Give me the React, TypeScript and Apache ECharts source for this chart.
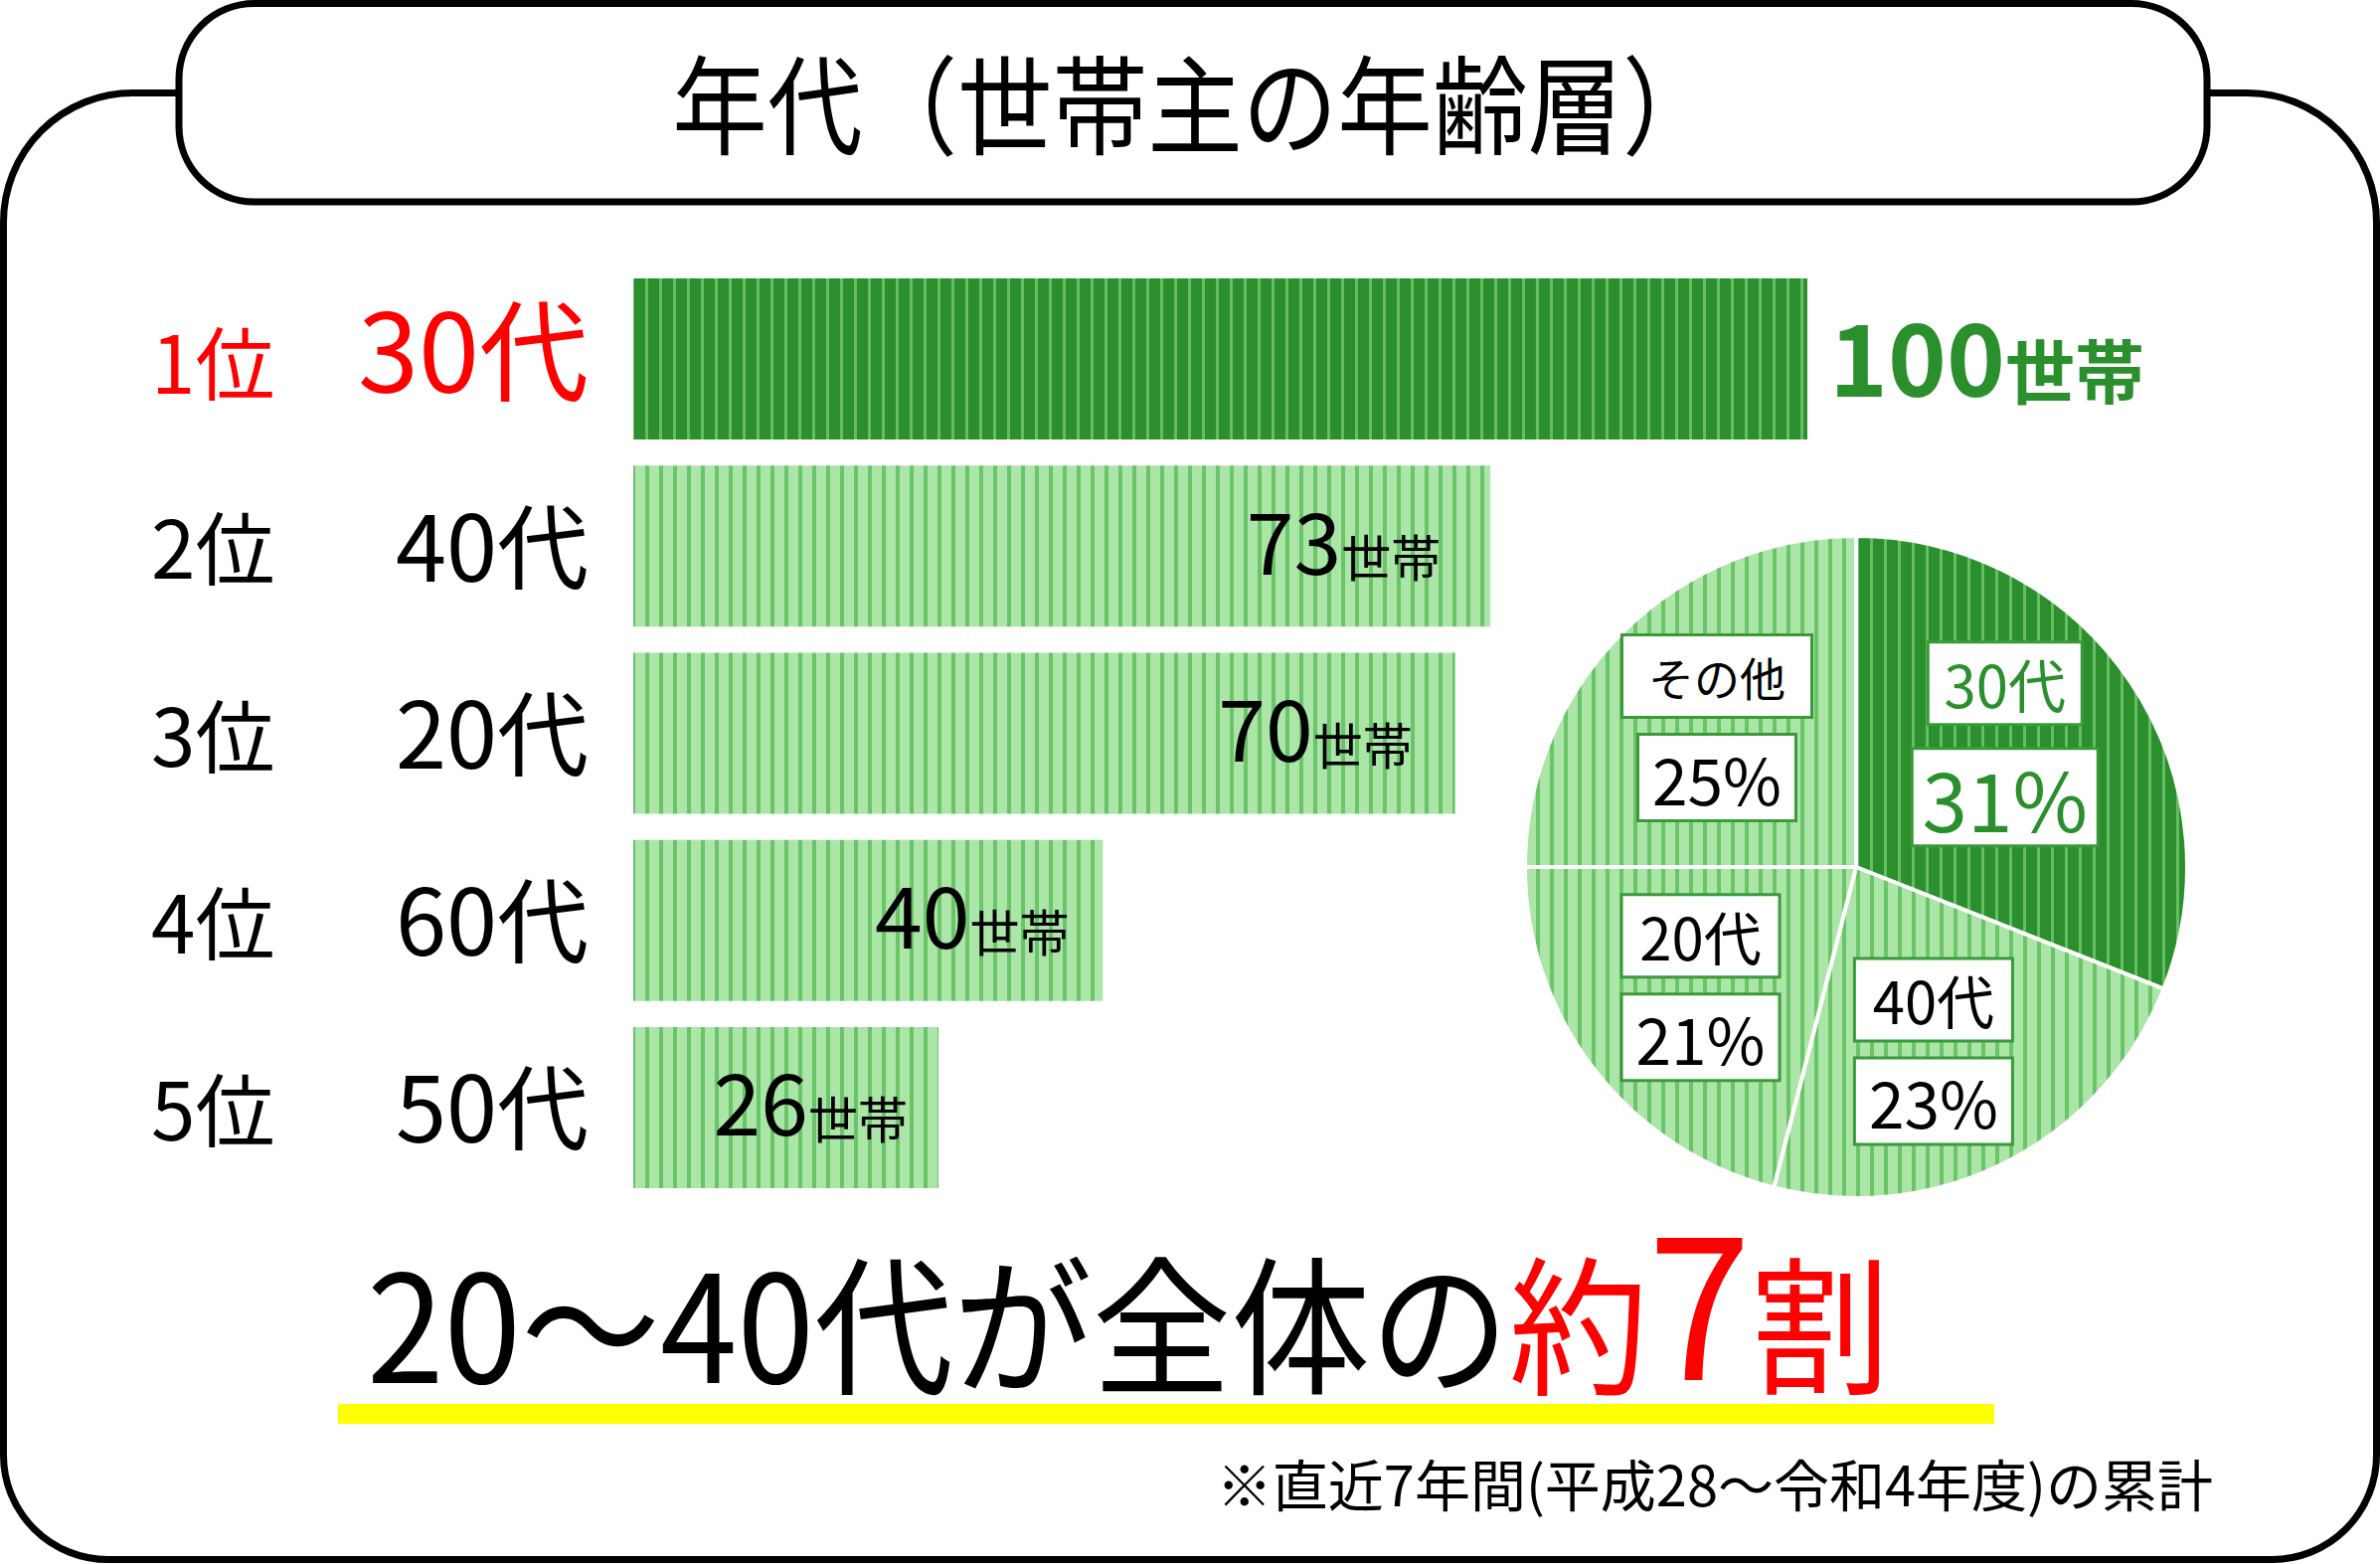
import React, { useEffect, useRef } from 'react';
import * as echarts from 'echarts';

// ---- data ----
const ranks = ['1位', '2位', '3位', '4位', '5位'];
const ageGroups = ['30代', '40代', '20代', '60代', '50代'];
const households = [100, 73, 70, 40, 26];
const unitLabel = '世帯';
const pieNames = ['30代', '40代', '20代', 'その他'];
const pieShares = [31, 23, 21, 25];
const titleText = '年代（世帯主の年齢層）';
const headlineBlack = '20～40代が全体の';
const headlineRed = ['約', '7', '割'];
const footnote = '※直近7年間(平成28～令和4年度)の累計';

// ---- styling (not data) ----
const GREEN = '#2a8f2c';
const RED = '#ff0000';
const FONT = '"Noto Sans CJK JP", "Noto Sans", sans-serif';
const barLabelInsets = [22, 50, 43, 34, 31];
const pieLabelOffsets = [[-14, -13], [-12, 9], [0, 0], [0, 0]];

function stripe(bg: string, fg: string, w: number) {
  const c = document.createElement('canvas');
  c.width = 14;
  c.height = 14;
  const ctx = c.getContext('2d')!;
  ctx.fillStyle = bg;
  ctx.fillRect(0, 0, 14, 14);
  ctx.fillStyle = fg;
  ctx.fillRect(5, 0, w, 14);
  return { image: c.toDataURL(), repeat: 'repeat', imageWidth: 14, imageHeight: 14 };
}

export default function App() {
  const ref = useRef<HTMLDivElement>(null);

  useEffect(() => {
    if (!ref.current) return;
    const chart = echarts.init(ref.current, null, { renderer: 'svg' });
    const darkPat = stripe(GREEN, '#66bd63', 3);
    const lightPat = stripe('#ace5a8', '#6ac468', 4);

    const boxBase = {
      backgroundColor: '#ffffff',
      borderColor: '#3a9a3a',
      borderWidth: 3,
      align: 'center',
      fontFamily: FONT,
    };

    const option: any = {
      animation: false,
      backgroundColor: '#ffffff',
      textStyle: { fontFamily: FONT },
      grid: { left: 637, right: 576, top: 267, height: 941, containLabel: false, outerBoundsMode: 'none' },
      xAxis: { type: 'value', min: 0, max: 100, show: false },
      yAxis: {
        type: 'category',
        inverse: true,
        data: ranks,
        axisLine: { show: false },
        axisTick: { show: false },
        splitLine: { show: false },
        axisLabel: {
          margin: 45,
          formatter: (v: string, i: number) =>
            i === 0 ? `{r1|${v}}{a1|${ageGroups[i]}}` : `{r|${v}}{a|${ageGroups[i]}}`,
          rich: {
            r1: { fontSize: 80, color: RED, width: 200, align: 'left', fontFamily: FONT },
            a1: { fontSize: 110, color: RED, width: 240, align: 'right', fontFamily: FONT, padding: [0, 0, 28, 0] },
            r: { fontSize: 80, color: '#000', width: 200, align: 'left', fontFamily: FONT, padding: [0, 0, 4, 0] },
            a: { fontSize: 92, color: '#000', width: 240, align: 'right', fontFamily: FONT, padding: [0, 0, 10, 0] },
          },
        },
      },
      series: [
        {
          type: 'bar',
          barWidth: 162,
          silent: true,
          data: households.map((v, i) => ({
            value: v,
            itemStyle: { color: i === 0 ? darkPat : lightPat },
            label:
              i === 0
                ? { position: 'right', distance: barLabelInsets[i], offset: [0, -6] }
                : { distance: barLabelInsets[i] },
          })),
          label: {
            show: true,
            position: 'insideRight',
            distance: 40,
            offset: [0, -9],
            formatter: (p: any) =>
              p.dataIndex === 0 ? `{N|${p.value}}{U|${unitLabel}}` : `{n|${p.value}}{u|${unitLabel}}`,
            rich: {
              N: { fontSize: 100, fontWeight: 'bold', color: GREEN, verticalAlign: 'bottom', fontFamily: FONT },
              U: { fontSize: 70, fontWeight: 'bold', color: GREEN, verticalAlign: 'bottom', fontFamily: FONT },
              n: { fontSize: 86, color: '#000', verticalAlign: 'bottom', fontFamily: FONT },
              u: { fontSize: 50, color: '#000', verticalAlign: 'bottom', fontFamily: FONT },
            },
          },
        },
        {
          type: 'pie',
          center: [1867, 872],
          radius: [0, 333],
          startAngle: 90,
          clockwise: true,
          silent: true,
          emphasis: { disabled: true },
          label: { show: false },
          labelLine: { show: false },
          itemStyle: { borderColor: '#ffffff', borderWidth: 4 },
          data: pieShares.map((v, i) => ({
            value: v,
            name: pieNames[i],
            itemStyle: { color: i === 0 ? darkPat : lightPat },
          })),
        },
        {
          type: 'pie',
          center: [1867, 872],
          radius: [60, 330],
          startAngle: 90,
          clockwise: true,
          silent: true,
          z: 3,
          avoidLabelOverlap: false,
          emphasis: { disabled: true },
          itemStyle: { color: 'rgba(0,0,0,0)', borderWidth: 0 },
          labelLine: { show: false },
          label: {
            show: true,
            position: 'inside',
            overflow: 'none',
            formatter: (p: any) => {
              const i = p.dataIndex;
              const g = i === 0 ? 'G' : 'K';
              const ageStyle = i === 3 ? 'ageO' : 'age' + g;
              return `{${ageStyle}|${p.name}}\n{pct${g}|${p.value}%}`;
            },
            rich: {
              ageG: { ...boxBase, fontSize: 58, color: GREEN, width: 152, height: 80, lineHeight: 108 },
              pctG: { ...boxBase, fontSize: 82, color: GREEN, width: 184, height: 95, lineHeight: 121 },
              ageK: { ...boxBase, fontSize: 58, color: '#000', width: 156, height: 80, lineHeight: 100 },
              ageO: { ...boxBase, fontSize: 46, color: '#000', width: 188, height: 80, lineHeight: 100 },
              pctK: { ...boxBase, fontSize: 64, color: '#000', width: 156, height: 84, lineHeight: 104 },
            },
          },
          data: pieShares.map((v, i) => ({
            value: v,
            name: pieNames[i],
            label: { offset: pieLabelOffsets[i] },
          })),
        },
      ],
      graphic: [
        {
          type: 'rect',
          silent: true,
          shape: { x: 3.5, y: 93.5, width: 2387, height: 1475, r: [130, 130, 105, 105] },
          style: { fill: 'none', stroke: '#000', lineWidth: 7 },
        },
        {
          type: 'rect',
          silent: true,
          shape: { x: 180, y: 3.5, width: 2040, height: 199.5, r: 76 },
          style: { fill: '#ffffff', stroke: '#000', lineWidth: 7 },
        },
        {
          type: 'text',
          silent: true,
          x: 1202,
          y: 100,
          scaleX: 0.885,
          style: {
            text: titleText,
            fontSize: 108,
            fontFamily: FONT,
            fill: '#000',
            align: 'center',
            verticalAlign: 'middle',
            textAlign: 'center',
            textVerticalAlign: 'middle',
          },
        },
        {
          type: 'rect',
          silent: true,
          shape: { x: 340, y: 1412, width: 1666, height: 20 },
          style: { fill: '#ffff00' },
        },
        {
          type: 'text',
          silent: true,
          x: 1135,
          y: 1401,
          scaleX: 0.932,
          style: {
            text: `{b|${headlineBlack}}{r|${headlineRed[0]}}{s|${headlineRed[1]}}{r|${headlineRed[2]}}`,
            fontFamily: FONT,
            fontSize: 150,
            align: 'center',
            verticalAlign: 'bottom',
            textAlign: 'center',
            textVerticalAlign: 'bottom',
            rich: {
              b: { fontSize: 150, fill: '#000', fontFamily: FONT, verticalAlign: 'bottom' },
              r: { fontSize: 150, fill: RED, fontFamily: FONT, verticalAlign: 'bottom' },
              s: { fontSize: 200, fill: RED, fontFamily: FONT, verticalAlign: 'bottom' },
            },
          },
        },
        {
          type: 'text',
          silent: true,
          x: 2226,
          y: 1490,
          style: {
            text: footnote,
            fontSize: 56,
            fontFamily: FONT,
            fill: '#000',
            align: 'right',
            verticalAlign: 'middle',
            textAlign: 'right',
            textVerticalAlign: 'middle',
          },
        },
      ],
    };

    chart.setOption(option);
    return () => chart.dispose();
  }, []);

  return (
    <div
      ref={ref}
      style={{ position: 'absolute', left: 0, top: 0, width: 2394, height: 1573, background: '#fff' }}
    />
  );
}
